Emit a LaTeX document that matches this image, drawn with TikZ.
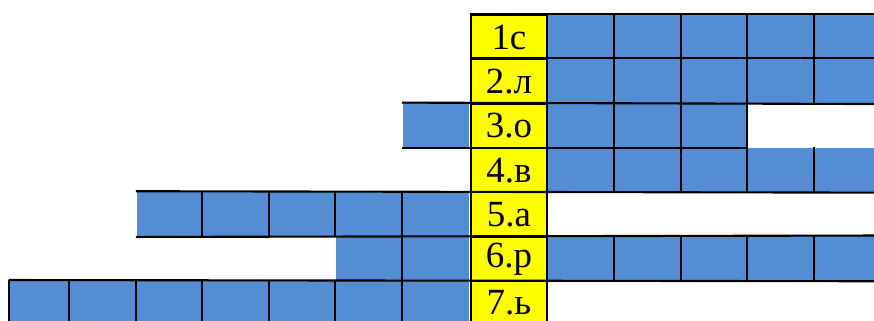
\documentclass[tikz,border=0pt]{standalone}
\usepackage{fontspec}
\setmainfont{Liberation Serif}
\definecolor{cellblue}{RGB}{84,141,212}
\definecolor{cellyellow}{RGB}{255,255,0}
\tikzset{
  answer/.style={rectangle, fill=cellyellow, draw=black, line width=0.6pt,
    minimum width=0.757cm, minimum height=0.443cm, inner sep=0pt,
    font=\rmfamily\fontsize{10.5}{10.5}\selectfont},
  blank/.style={rectangle, fill=cellblue, minimum height=0.443cm, inner sep=0pt},
  rule/.style={line width=0.6pt}
}
\begin{document}
\begin{tikzpicture}[x=0.01cm, y=-0.01cm]
\useasboundingbox (0,0) rectangle (874,320);
% blue cells to the right of the key column
\foreach \r/\n in {1/5, 2/5, 3/3, 4/5, 6/5} {
  \foreach \c in {1,...,\n} {
    \node[blank, minimum width=0.667cm, anchor=north west] (r\r-\c) at ({545.7+66.7*(\c-1)}, {14+44.3*(\r-1)}) {};
  }
}
% blue cells to the left of the key column
\foreach \r/\n in {3/1, 5/5, 6/2, 7/6} {
  \foreach \c in {1,...,\n} {
    \node[blank, minimum width=0.667cm, anchor=north east] (l\r-\c) at ({470-66.5*(\c-1)}, {14+44.3*(\r-1)}) {};
  }
}
\node[blank, minimum width=0.607cm, anchor=north east] (l7-7) at (70.7, 280) {};
% key column
\foreach \r/\t in {1/1с, 2/2.л, 3/3.о, 4/4.в, 5/5.а, 6/6.р, 7/7.ь} {
  \node[answer, anchor=north west] (a\r) at (470, {14+44.3*(\r-1)}) {\t};
}
% horizontal rules
\draw[rule] (a1.north west) -- (r1-5.north east);
\draw[rule] (a2.north west) -- (r2-5.north east);
\draw[rule] (l3-1.north west) -- (r2-5.south east);
\draw[rule] (l3-1.south west) -- (r3-3.south east);
\draw[rule] (l5-5.north west) -- (r4-5.south east);
\draw[rule] (l5-5.south west) -- (r6-5.north east);
\draw[rule] (l7-7.north west) -- (r6-5.south east);
% vertical rules
\foreach \r/\n in {1/5, 2/5, 3/3, 4/5, 6/5} {
  \foreach \c in {1,...,\n} {
    \draw[rule] (r\r-\c.north east) -- (r\r-\c.south east);
  }
}
\foreach \r/\n in {5/4, 6/1, 7/7} {
  \foreach \c in {1,...,\n} {
    \draw[rule] (l\r-\c.north west) -- (l\r-\c.south west);
  }
}
\end{tikzpicture}
\end{document}
